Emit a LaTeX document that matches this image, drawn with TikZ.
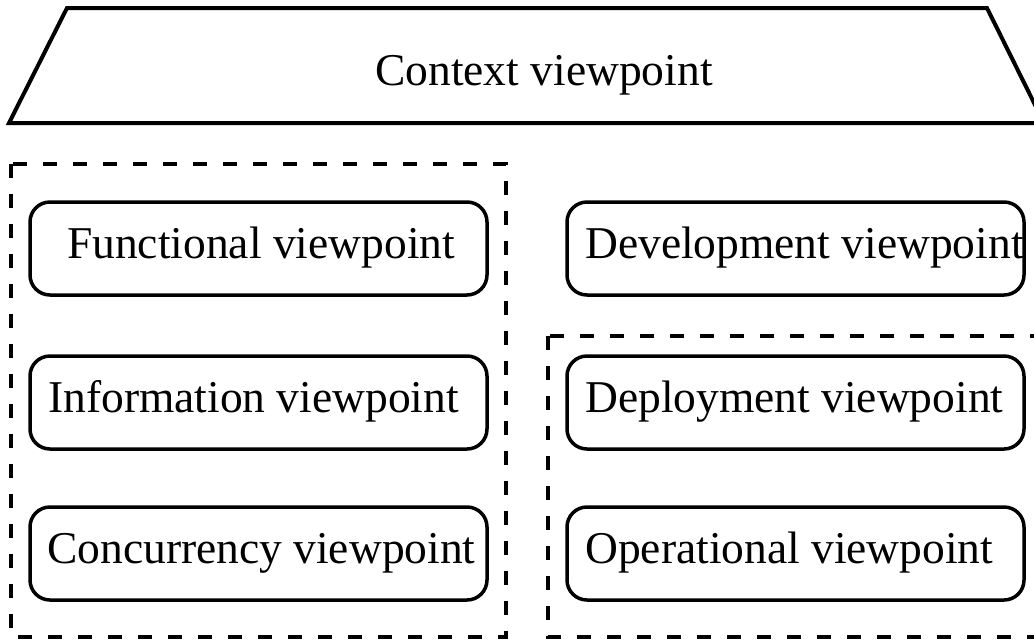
\documentclass[tikz,border=0pt]{standalone}
\usepackage{fontspec}
\setmainfont{Liberation Serif}
\tikzset{
  vbox/.style={draw, line width=3.5pt, rounded corners=20pt, rectangle, minimum width=457pt, minimum height=93pt, inner sep=0pt},
  vtxt/.style={anchor=base west, inner sep=0pt, font=\fontsize{45.5}{50}\selectfont},
  grp/.style={draw, line width=4pt, dash pattern=on 14pt off 16pt},
  ctx/.style={draw, line width=4pt, line join=miter}
}
\begin{document}
\begin{tikzpicture}[x=1pt,y=-1pt]
\useasboundingbox (0,0) rectangle (1034,641);
\clip (0,0) rectangle (1034,641);
% context trapezium
\draw[ctx] (67,8) -- (987,8) -- (1044,123) -- (9,123) -- cycle;
\node[vtxt] (ctxt) at (375,85) {Context viewpoint};
% dashed groups
\draw[grp] (11,164) rectangle (506,637);
\draw[grp] (548,336) rectangle (1050,637);
% boxes
\node[vbox] (fun) at (258.5,248.5) {};
\node[vbox] (inf) at (258.5,402.5) {};
\node[vbox] (con) at (258.5,553.5) {};
\node[vbox] (dev) at (795.5,248.5) {};
\node[vbox] (dep) at (795.5,402.5) {};
\node[vbox] (ope) at (795.5,553.5) {};
% texts
\node[vtxt] (funt) at (67,258) {Functional viewpoint};
\node[vtxt] (inft) at (48,412) {Information viewpoint};
\node[vtxt] (cont) at (47,563) {Concurrency viewpoint};
\node[vtxt] (devt) at (585,258) {Development viewpoint};
\node[vtxt] (dept) at (585,412) {Deployment viewpoint};
\node[vtxt] (opet) at (585,563) {Operational viewpoint};
\end{tikzpicture}
\end{document}
